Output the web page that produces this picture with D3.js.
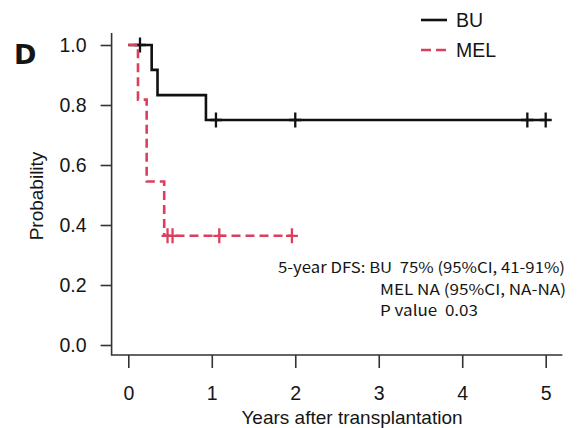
<!DOCTYPE html>
<html>
<head>
<meta charset="utf-8">
<script src="https://cdn.jsdelivr.net/npm/d3@7"></script>
<style>
  html, body { margin: 0; padding: 0; background: #fff; }
  svg { display: block; }
</style>
</head>
<body>
<svg id="chart" width="579" height="428"></svg>
<script>
// Kaplan–Meier step curves: time (years) where the curve changes, and survival after that time
const buStepTimes = [0, 0.28, 0.35, 0.93];
const buSurvival  = [1.0, 0.917, 0.833, 0.75];
const buEndTime   = 5.0;
const buCensored  = [0.14, 1.05, 2.0, 4.78, 5.0];

const melStepTimes = [0, 0.116, 0.22, 0.43];
const melSurvival  = [1.0, 0.818, 0.545, 0.364];
const melEndTime   = 1.96;
const melCensored  = [0.47, 0.53, 1.09, 1.96];

const xTicks = [0, 1, 2, 3, 4, 5];
const yTicks = [0.0, 0.2, 0.4, 0.6, 0.8, 1.0];

const seriesNames = ["BU", "MEL"];
const annotationLines = [
  "5-year DFS: BU\u00A0\u00A075% (95%CI, 41-91%)",
  "MEL NA (95%CI, NA-NA)",
  "P value\u00A0\u00A00.03"
];

const svg = d3.select("#chart");
const sans = "'Liberation Sans', Arial, Helvetica, sans-serif";
const ink = "#151515";
const redCol = "#dc3f5c";

// scales with the usual 4% padding around the data range
const x = d3.scaleLinear().domain([0, 5]).range([128.3, 545.7]);
const y = d3.scaleLinear().domain([0, 1]).range([345, 45]);
const xPad = 0.2, yPad = 0.04;

// L-shaped frame
svg.append("path")
  .attr("d", `M${x(-xPad)},${y(1 + yPad)} V${y(-yPad) - 2} H${x(5 + xPad)}`)
  .attr("stroke", "#333").attr("stroke-width", 1.6).attr("fill", "none");

// axes
const yAxis = d3.axisLeft(y).tickValues(yTicks).tickFormat(d3.format(".1f"))
  .tickSize(11).tickPadding(14).tickSizeOuter(0);
const gy = svg.append("g").attr("transform", `translate(${x(-xPad)},0)`).call(yAxis);

const xAxis = d3.axisBottom(x).tickValues(xTicks).tickFormat(d3.format("d"))
  .tickSize(13).tickPadding(18).tickSizeOuter(0);
const gx = svg.append("g").attr("transform", `translate(0,${y(-yPad) - 2})`).call(xAxis);

[gx, gy].forEach(g => {
  g.select(".domain").remove();
  g.selectAll(".tick line").attr("stroke", "#333").attr("stroke-width", 1.6);
  g.selectAll(".tick text")
    .style("font-family", sans).style("font-size", "19.5px").style("fill", ink);
});

// axis titles
svg.append("text")
  .attr("x", 352).attr("y", 424)
  .attr("text-anchor", "middle")
  .style("font-family", sans).style("font-size", "19px").style("fill", ink)
  .text("Years after transplantation");

svg.append("text")
  .attr("transform", "translate(43,196) rotate(-90)")
  .attr("text-anchor", "middle")
  .style("font-family", sans).style("font-size", "19px").style("fill", ink)
  .text("Probability");

// panel letter
svg.append("text")
  .attr("x", 14).attr("y", 64)
  .style("font-family", "'DejaVu Sans', sans-serif")
  .style("font-weight", "bold").style("font-size", "27px").style("fill", ink)
  .text("D");

// step path builder
function stepPoints(times, surv, end) {
  const pts = [];
  for (let i = 0; i < times.length; i++) {
    if (i > 0) pts.push([times[i], surv[i - 1]]);
    pts.push([times[i], surv[i]]);
  }
  pts.push([end, surv[surv.length - 1]]);
  return pts;
}
function survAt(times, surv, t) {
  let s = surv[0];
  for (let i = 0; i < times.length; i++) if (times[i] <= t) s = surv[i];
  return s;
}
const line = d3.line().x(d => x(d[0])).y(d => y(d[1]));

function drawCurve(times, surv, end, censored, color, dash) {
  const g = svg.append("g");
  g.append("path")
    .attr("d", line(stepPoints(times, surv, end)))
    .attr("fill", "none").attr("stroke", color).attr("stroke-width", 2.6)
    .attr("stroke-dasharray", dash);
  g.selectAll("path.cens").data(censored).enter().append("path")
    .attr("class", "cens")
    .attr("d", t => {
      const cx = x(t), cy = y(survAt(times, surv, t));
      return `M${cx - 6},${cy} H${cx + 6} M${cx},${cy - 7.5} V${cy + 7.5}`;
    })
    .attr("stroke", color).attr("stroke-width", 2.3).attr("fill", "none");
}

drawCurve(buStepTimes, buSurvival, buEndTime, buCensored, "#111", null);
drawCurve(melStepTimes, melSurvival, melEndTime, melCensored, redCol, "9,5");

// legend
const legendY = [20, 50];
seriesNames.forEach((name, i) => {
  svg.append("line")
    .attr("x1", 421).attr("x2", 447).attr("y1", legendY[i]).attr("y2", legendY[i])
    .attr("stroke", i === 0 ? "#111" : redCol).attr("stroke-width", 2.6)
    .attr("stroke-dasharray", i === 0 ? null : "10,5");
  svg.append("text")
    .attr("x", 456).attr("y", legendY[i] + 7)
    .style("font-family", sans).style("font-size", "19.5px").style("fill", ink)
    .text(name);
});

// summary text
const annX = [278, 380, 380];
const annY = [273, 294.5, 316];
const annW = [287, 186, 98];
annotationLines.forEach((s, i) => {
  svg.append("text")
    .attr("x", annX[i]).attr("y", annY[i])
    .attr("textLength", annW[i]).attr("lengthAdjust", "spacingAndGlyphs")
    .style("font-family", "'Noto Sans CJK JP', sans-serif")
    .style("font-size", "15px").style("fill", ink)
    .text(s);
});
</script>
</body>
</html>
